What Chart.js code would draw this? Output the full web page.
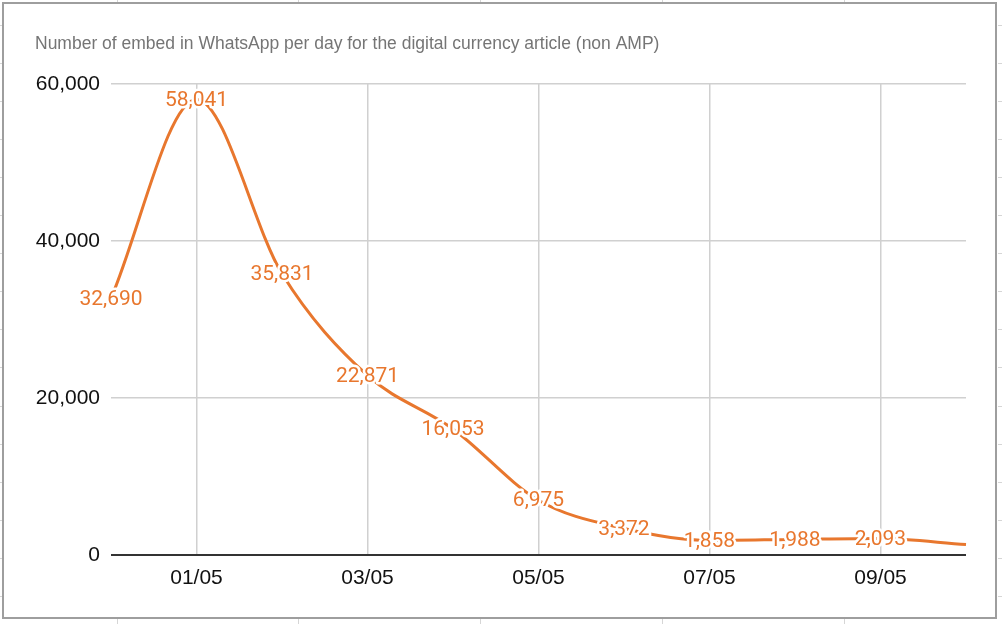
<!DOCTYPE html>
<html>
<head>
<meta charset="utf-8">
<script src="https://cdn.jsdelivr.net/npm/chart.js@4.4.1/dist/chart.umd.min.js"></script>
<style>
  html, body { margin: 0; padding: 0; background: #fff; }
  #wrap { position: relative; width: 1002px; height: 624px; overflow: hidden; }
  #frame {
    position: absolute; left: 2px; top: 2px; width: 991px; height: 613px;
    border: 2px solid #9e9e9e; background: #fff;
  }
  .stub { position: absolute; background: #d6d6d6; }
  #chart { position: absolute; left: 0; top: 0; }
</style>
</head>
<body>
<div id="wrap">
  <div id="frame"></div>
  <canvas id="chart" width="1002" height="624"></canvas>
</div>
<script>
// Datos del gráfico
const dias = ['30/04', '01/05', '02/05', '03/05', '04/05', '05/05', '06/05', '07/05', '08/05', '09/05', '10/05'];
const embeds = [32690, 58041, 35831, 22871, 16053, 6975, 3372, 1858, 1988, 2093, 1325];
const ticksY = [0, 20000, 40000, 60000];
const titulo = 'Number of embed in WhatsApp per day for the digital currency article (non AMP)';

const naranja = '#e8772e';
const fuenteEje = '"Liberation Sans", Arial, sans-serif';

// Líneas de celdas de la hoja alrededor del marco (decoración)
const wrap = document.getElementById('wrap');
function stub(x, y, w, h) {
  const d = document.createElement('div');
  d.className = 'stub';
  d.style.left = x + 'px'; d.style.top = y + 'px';
  d.style.width = w + 'px'; d.style.height = h + 'px';
  wrap.insertBefore(d, wrap.firstChild);
}
[117, 298, 480, 662, 844].forEach(x => { stub(x, 0, 1, 2); stub(x, 619, 1, 5); });
for (let y = 24.5; y < 619; y += 38.1) { stub(0, Math.round(y), 2, 1); stub(998, Math.round(y), 4, 1); }

// Título arriba a la izquierda
const pluginTitulo = {
  id: 'titulo',
  beforeDraw(chart) {
    const ctx = chart.ctx;
    ctx.save();
    ctx.font = '17.5px ' + fuenteEje;
    ctx.fillStyle = '#757575';
    ctx.textAlign = 'left';
    ctx.textBaseline = 'middle';
    ctx.fillText(titulo, 35, 44);
    ctx.restore();
  }
};

// Etiquetas de valores con halo blanco, centradas en cada punto
const pluginEtiquetas = {
  id: 'etiquetas',
  afterDatasetsDraw(chart) {
    const ctx = chart.ctx;
    const meta = chart.getDatasetMeta(0);
    ctx.save();
    ctx.font = '21px Roboto, sans-serif';
    ctx.textAlign = 'center';
    ctx.textBaseline = 'middle';
    ctx.lineJoin = 'round';
    meta.data.forEach((pt, i) => {
      if (i === meta.data.length - 1) return; // la última no tiene etiqueta
      const txt = embeds[i].toLocaleString('en-US');
      ctx.strokeStyle = '#fff';
      ctx.lineWidth = 5;
      ctx.strokeText(txt, pt.x, pt.y + 1);
      ctx.fillStyle = naranja;
      ctx.fillText(txt, pt.x, pt.y + 1);
    });
    ctx.restore();
  }
};

const ctx = document.getElementById('chart').getContext('2d');
new Chart(ctx, {
  type: 'line',
  data: {
    labels: dias,
    datasets: [{
      data: embeds,
      borderColor: naranja,
      borderWidth: 3,
      pointRadius: 0,
      fill: false,
      cubicInterpolationMode: 'monotone'
    }]
  },
  options: {
    responsive: false,
    animation: false,
    layout: { padding: { top: 84, right: 36, left: 0, bottom: 0 } },
    plugins: {
      legend: { display: false },
      title: { display: false },
      tooltip: { enabled: false }
    },
    scales: {
      x: {
        offset: false,
        afterFit(scale) { scale.height = 69; },
        border: { display: false },
        grid: {
          drawTicks: false,
          color: c => (c.index % 2 === 1 ? '#d0d0d0' : 'rgba(0,0,0,0)'),
          lineWidth: 1.5
        },
        ticks: {
          autoSkip: false,
          maxRotation: 0,
          padding: 11,
          color: '#111',
          font: { size: 21, family: fuenteEje },
          callback: (v, i) => (i % 2 === 1 ? dias[i] : '')
        }
      },
      y: {
        min: ticksY[0],
        max: ticksY[ticksY.length - 1],
        afterFit(scale) { scale.width = 111; },
        afterBuildTicks(scale) { scale.ticks = ticksY.map(v => ({ value: v })); },
        border: { display: false },
        grid: {
          drawTicks: false,
          color: c => (c.tick && c.tick.value === 0 ? '#333' : '#d0d0d0'),
          lineWidth: c => (c.tick && c.tick.value === 0 ? 2 : 1.5)
        },
        ticks: {
          padding: 11,
          color: '#111',
          font: { size: 21, family: fuenteEje },
          callback: v => v.toLocaleString('en-US')
        }
      }
    }
  },
  plugins: [pluginTitulo, pluginEtiquetas]
});
</script>
</body>
</html>
